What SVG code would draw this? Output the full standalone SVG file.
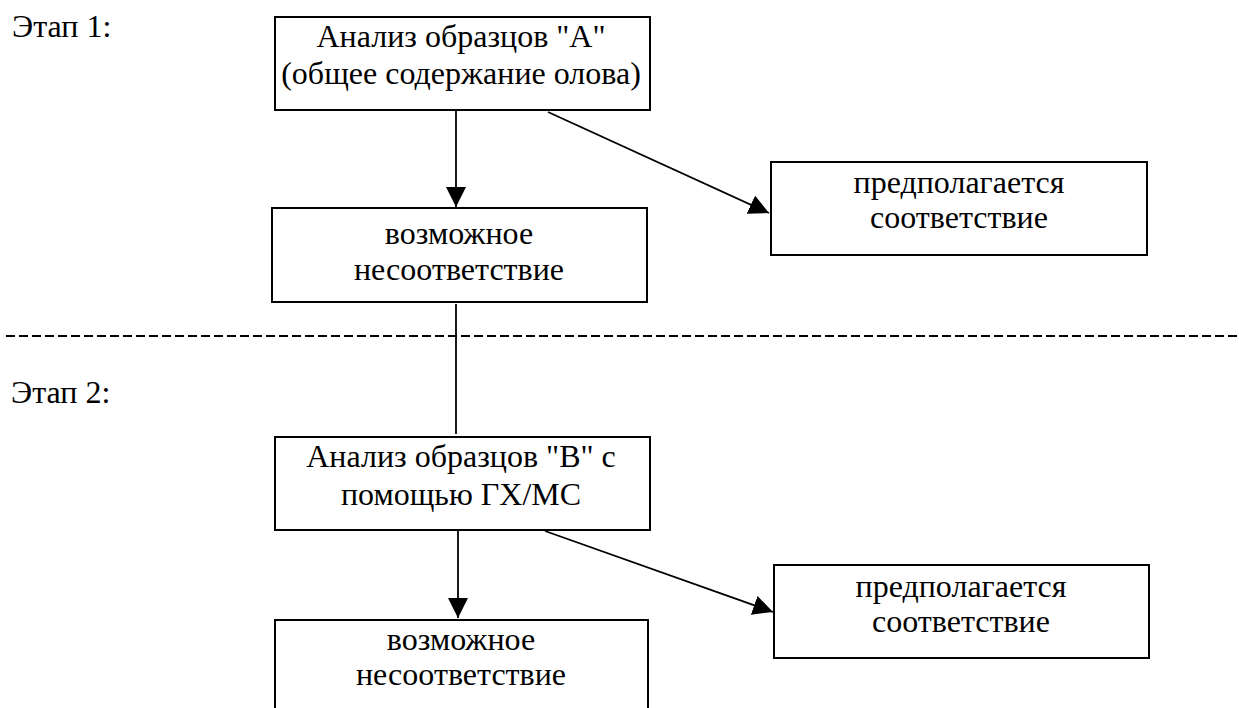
<svg xmlns="http://www.w3.org/2000/svg" width="1239" height="708" viewBox="0 0 1239 708">
<style>
  .box { fill: #fff; stroke: #000; stroke-width: 2; }
  text { font-family: "Liberation Serif", "DejaVu Serif", serif; font-size: 32px; fill: #000; }
  .c { text-anchor: middle; }
  .ln { stroke: #000; stroke-width: 1.8; fill: none; }
</style>
<defs>
  <marker id="ah" markerUnits="userSpaceOnUse" markerWidth="22" markerHeight="22" viewBox="0 0 22 22" refX="20" refY="11" orient="auto">
    <path d="M0,1 L20,11 L0,21 Z" fill="#000"/>
  </marker>
</defs>
<rect width="1239" height="708" fill="#fff"/>
<g font-family="Liberation Serif, serif">
<text x="12" y="37">Этап 1:</text>
<text x="11" y="403">Этап 2:</text>
</g>
<g id="connectors">
  <line class="ln" x1="456" y1="111" x2="456" y2="207" marker-end="url(#ah)"/>
  <line class="ln" x1="548" y1="112" x2="769" y2="213" marker-end="url(#ah)"/>
  <line class="ln" x1="456" y1="304" x2="456" y2="434"/>
  <line class="ln" x1="458" y1="531" x2="458" y2="618" marker-end="url(#ah)"/>
  <line class="ln" x1="545" y1="531" x2="773" y2="612" marker-end="url(#ah)"/>
  <line class="ln" x1="6" y1="336" x2="1239" y2="336" stroke-dasharray="9 4"/>
</g>
<g id="nodeA">
  <rect class="box" x="275" y="17" width="375" height="93"/>
  <text class="c" x="461" y="47">Анализ образцов "A"</text>
  <text class="c" x="461" y="84">(общее содержание олова)</text>
</g>
<g id="nodeN1">
  <rect class="box" x="272" y="208" width="375" height="94"/>
  <text class="c" x="459" y="244">возможное</text>
  <text class="c" x="459" y="280">несоответствие</text>
</g>
<g id="nodeP1">
  <rect class="box" x="771" y="162" width="376" height="93"/>
  <text class="c" x="959" y="193">предполагается</text>
  <text class="c" x="959" y="228">соответствие</text>
</g>
<g id="nodeB">
  <rect class="box" x="275" y="437" width="375" height="93"/>
  <text class="c" x="461" y="467">Анализ образцов "B" с</text>
  <text class="c" x="461" y="505">помощью ГХ/МС</text>
</g>
<g id="nodeN2">
  <rect class="box" x="275" y="620" width="373" height="100"/>
  <text class="c" x="461" y="650">возможное</text>
  <text class="c" x="461" y="685">несоответствие</text>
</g>
<g id="nodeP2">
  <rect class="box" x="774" y="565" width="375" height="93"/>
  <text class="c" x="961" y="597">предполагается</text>
  <text class="c" x="961" y="632">соответствие</text>
</g>
</svg>
